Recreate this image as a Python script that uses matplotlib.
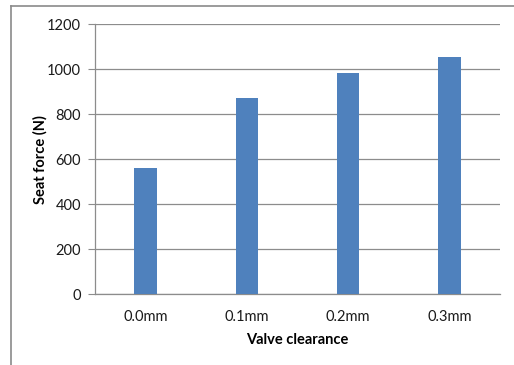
import numpy as np
import matplotlib.pyplot as plt
from matplotlib.lines import Line2D

# valve clearance vs seat force
clearances = ['0.0mm', '0.1mm', '0.2mm', '0.3mm']
seat_force = [561, 872, 984, 1053]
y_ticks = [0, 200, 400, 600, 800, 1000, 1200]

plt.rcParams['font.family'] = ['Lato', 'DejaVu Sans']

fig = plt.figure(figsize=(5.14, 3.65), dpi=100)
ax = fig.add_axes([0.1848, 0.1937, 0.788, 0.7397])

x = np.arange(len(clearances))
ax.bar(x, seat_force, width=0.22, color='#4F81BD', zorder=3)

ax.set_xlim(-0.5, len(clearances) - 0.5)
ax.set_ylim(0, 1200)
ax.set_yticks(y_ticks)
ax.set_xticks(x)
ax.set_xticklabels(clearances)

grid_col = '#8c8c8c'
ax.yaxis.grid(True, color=grid_col, linewidth=0.9, zorder=0)
for s in ['top', 'right']:
    ax.spines[s].set_visible(False)
ax.spines['left'].set_color(grid_col)
ax.spines['bottom'].set_color(grid_col)
ax.spines['left'].set_linewidth(0.9)
ax.spines['bottom'].set_linewidth(0.9)

ax.tick_params(axis='y', length=5, color=grid_col, labelsize=10.5, pad=5,
               labelcolor='#1a1a1a')
ax.tick_params(axis='x', length=0, labelsize=10.5, pad=11, labelcolor='#1a1a1a')

ax.set_ylabel('Seat force (N)', fontsize=10.5, fontweight='bold', labelpad=0)
ax.set_xlabel('Valve clearance', fontsize=10.5, fontweight='bold', labelpad=7)

# chart frame lines on the left and top
fig.add_artist(Line2D([10.5 / 514, 10.5 / 514], [0, 1 - 5.5 / 365],
                      transform=fig.transFigure, color='#8a8a8a', linewidth=1.2))
fig.add_artist(Line2D([10.5 / 514, 1], [1 - 5.5 / 365, 1 - 5.5 / 365],
                      transform=fig.transFigure, color='#8a8a8a', linewidth=1.2))

fig.savefig('out.png', dpi=100)
